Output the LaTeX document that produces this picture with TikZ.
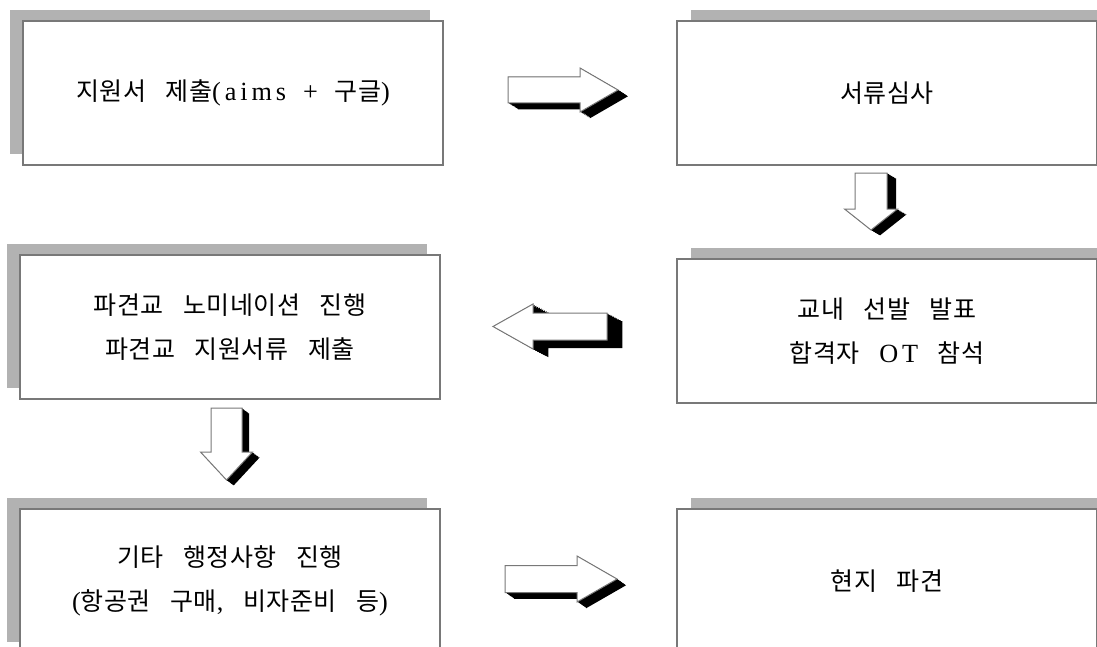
\documentclass[tikz,border=0pt]{standalone}
\usepackage{fontspec}
\setmainfont{Noto Sans CJK KR}[WordSpace=3.2,LetterSpace=2]
\newfontfamily\lat{Liberation Serif}[Scale=1.05,LetterSpace=15,WordSpace=1.6]
\usepackage{tikz}
\usetikzlibrary{calc,shadows}
\definecolor{boxline}{RGB}{120,120,120}
\definecolor{boxshade}{RGB}{178,178,178}

\tikzset{
  pics/rightarrow/.style args={#1/#2/#3/#4/#5/#6}{code={
    \def\arrowoutline{(-#1/2,-#3) -- (#1/2-#2,-#3) -- (#1/2-#2,-#4) -- (#1/2,0)
      -- (#1/2-#2,#4) -- (#1/2-#2,#3) -- (-#1/2,#3) -- cycle}
    \foreach \t in {0,0.1,...,1}
      \fill[black,shift={({\t*(#5)},{\t*(#6)})}] \arrowoutline;
    \filldraw[arrowface] \arrowoutline;
  }},
  pics/downarrow/.style args={#1/#2/#3/#4/#5/#6}{code={
    \def\arrowoutline{(-#3,-#1/2) -- (-#3,#1/2-#2) -- (-#4,#1/2-#2) -- (0,#1/2)
      -- (#4,#1/2-#2) -- (#3,#1/2-#2) -- (#3,-#1/2) -- cycle}
    \foreach \t in {0,0.1,...,1}
      \fill[black,shift={({\t*(#5)},{\t*(#6)})}] \arrowoutline;
    \filldraw[arrowface] \arrowoutline;
  }}
}

\begin{document}
\begin{tikzpicture}[x=0.5pt,y=-0.5pt,
  stage/.style={draw=boxline,line width=0.6pt,fill=white,minimum width=210pt,
    minimum height=72pt,inner sep=0pt,align=center,font=\fontsize{12.5pt}{22pt}\selectfont},
  leftstage/.style={stage,general shadow={fill=boxshade,shadow xshift=-6.5pt,shadow yshift=5.5pt}},
  rightstage/.style={stage,general shadow={fill=boxshade,shadow xshift=7pt,shadow yshift=5.5pt}},
  arrowface/.style={fill=white,draw=boxline,line width=0.5pt}]
  \useasboundingbox (0,0) rectangle (1097,647);
  \clip (0,0) rectangle (1097,647);

  % stages
  \node[leftstage]  (apply)    at (233,93)  {지원서 제출{\lat(aims + }구글{\lat)}};
  \node[rightstage] (review)   at (887,93)  {서류심사};
  \node[leftstage]  (nominate) at (230,327) {파견교 노미네이션 진행\\파견교 지원서류 제출};
  \node[rightstage] (select)   at (887,331) {교내 선발 발표\\합격자 {\lat OT} 참석};
  \node[leftstage]  (admin)    at (230,581) {기타 행정사항 진행\\{\lat(}항공권 구매{\lat,} 비자준비 등{\lat)}};
  \node[rightstage] (abroad)   at (887,581) {현지 파견};

  % block arrows
  \pic at ($(apply.east)!0.5!(review.west)+(3,-3)$) {rightarrow=110/38/13/22/11/7};
  \pic at ($(review.south)!0.5!(select.north)+(-16,-10.5)$) {downarrow=57/21/16/26.5/10/6};
  \pic[xscale=-1] at ($(nominate.east)!0.5!(select.west)+(-8.5,-2.5)$) {rightarrow=114/40/13.5/22.5/-17/9};
  \pic at ($(nominate.south)!0.5!(admin.north)+(-3.5,-10)$) {downarrow=72/28/15.5/26/8/6};
  \pic at ($(admin.east)!0.5!(abroad.west)+(2.5,-2)$) {rightarrow=112/40/13.5/23/10/7};
\end{tikzpicture}
\end{document}
